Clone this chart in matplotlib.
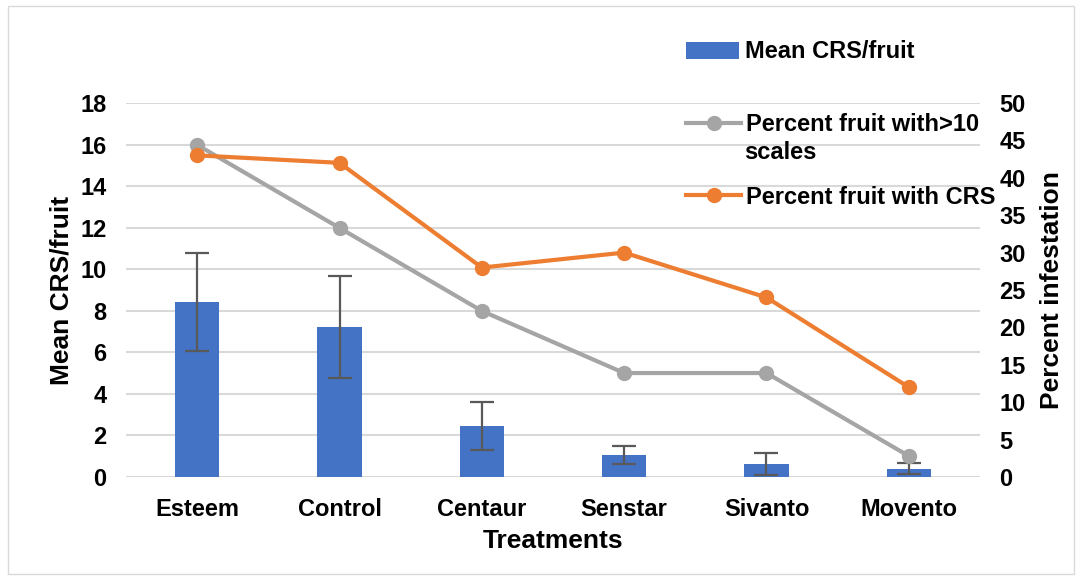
import matplotlib.pyplot as plt
from matplotlib.patches import Rectangle
import numpy as np

treatments = ["Esteem", "Control", "Centaur", "Senstar", "Sivanto", "Movento"]
mean_crs = [8.42, 7.22, 2.45, 1.07, 0.64, 0.40]
mean_crs_err = [2.35, 2.47, 1.17, 0.44, 0.53, 0.26]
pct_over10 = [44.4, 33.3, 22.2, 13.9, 13.9, 2.8]
pct_crs = [43.0, 42.0, 28.0, 30.0, 24.0, 12.0]

plt.rcParams["font.family"] = ["Liberation Sans", "DejaVu Sans"]
plt.rcParams["font.weight"] = "bold"

fig = plt.figure(figsize=(10.82, 5.78), dpi=100)
ax = fig.add_axes([126 / 1082, 1 - 477 / 578, (980 - 126) / 1082, (477 - 103) / 578])
ax2 = ax.twinx()

x = np.arange(len(treatments))
bars = ax.bar(x, mean_crs, width=0.31, color="#4472c4", zorder=2,
              label="Mean CRS/fruit")
ax.errorbar(x, mean_crs, yerr=mean_crs_err, fmt="none", ecolor="#595959",
            elinewidth=1.6, capsize=8.5, capthick=1.6, zorder=3)

l1, = ax2.plot(x, pct_over10, color="#a5a5a5", lw=3, marker="o", ms=10,
               label="Percent fruit with>10")
l2, = ax2.plot(x, pct_crs, color="#ed7d31", lw=3, marker="o", ms=10,
               label="Percent fruit with CRS")

ax.set_xlim(-0.5, 5.5)
ax.set_ylim(0, 18)
ax.set_yticks(range(0, 19, 2))
ax2.set_ylim(0, 50)
ax2.set_yticks(range(0, 51, 5))

ax.grid(axis="y", color="#d9d9d9", lw=1.5, zorder=0)
ax.set_axisbelow(True)
for a in (ax, ax2):
    for s in a.spines.values():
        s.set_visible(False)
    a.tick_params(length=0, labelsize=17)
ax.tick_params(axis="x", pad=15)
ax.tick_params(axis="y", pad=14)
ax2.tick_params(axis="y", pad=14)
ax.set_xticks(x)
ax.set_xticklabels(treatments, fontweight="bold")

ax.set_xlabel("Treatments", fontsize=19, fontweight="bold", labelpad=6)
ax.set_ylabel("Mean CRS/fruit", fontsize=19, fontweight="bold", labelpad=5)
ax2.set_ylabel("Percent infestation", fontsize=19, fontweight="bold", labelpad=10)

fig.legend(handles=[bars], loc="center left",
           bbox_to_anchor=(686 / 1082, 1 - 52 / 578), frameon=False,
           borderpad=0, borderaxespad=0, handlelength=2.25, handletextpad=0.25,
           prop={"weight": "bold", "size": 17})
fig.legend(handles=[l1, l2], loc="upper left",
           bbox_to_anchor=(686 / 1082, 1 - 113 / 578), frameon=False,
           borderpad=0, borderaxespad=0, handlelength=2.35, handletextpad=0.2,
           labelspacing=2.1, prop={"weight": "bold", "size": 17})
fig.text(744 / 1082, 1 - 153 / 578, "scales", fontsize=17, fontweight="bold",
         va="center", ha="left")

fig.patches.append(Rectangle((8 / 1082, 4 / 578), 1066 / 1082, 568 / 578,
                             transform=fig.transFigure, fill=False,
                             edgecolor="#d9d9d9", lw=1))

fig.savefig("out.png", dpi=100)
